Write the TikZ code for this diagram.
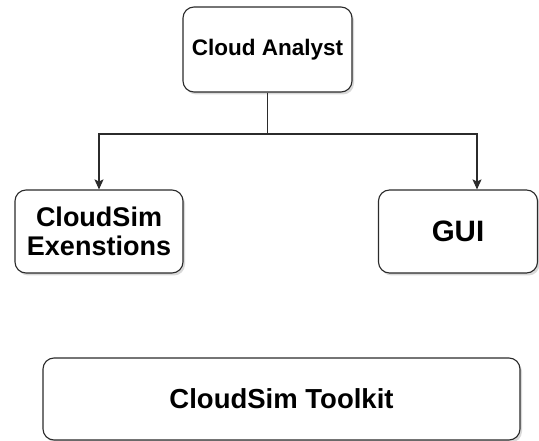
\documentclass[tikz,border=0pt]{standalone}
\usepackage{fontspec}
\setmainfont{Liberation Sans}
\usetikzlibrary{arrows.meta, shadows}
\definecolor{cline}{HTML}{2B2B2B}
\tikzset{
  every picture/.style={font=\bfseries, line width=1.1pt},
  block/.style={draw=cline, fill=white, rounded corners=11pt, align=center, inner sep=4pt,
    drop shadow={shadow xshift=2pt, shadow yshift=-2.5pt, opacity=0.15, fill=black}},
  link/.style={-{Stealth[length=10pt, width=9pt, inset=2pt]}, draw=cline, line width=1.1pt},
}
\newcommand{\fs}[1]{\fontsize{#1}{#1}\selectfont}

\begin{document}
\begin{tikzpicture}[x=1pt, y=-1pt]
  \useasboundingbox (0,0) rectangle (539,441);
  \node[block, minimum width=169pt, minimum height=85pt, font=\bfseries\fs{22.5}] (analyst) at (267.5,49.5) {Cloud Analyst};
  \node[block, minimum width=168pt, minimum height=83pt, font=\bfseries\fontsize{27}{29}\selectfont] (ext) at (99,231.5) {CloudSim\\Exenstions};
  \node[block, minimum width=159pt, minimum height=83pt, font=\bfseries\fs{29.5}] (gui) at (458,231.5) {GUI};
  \node[block, minimum width=477pt, minimum height=82pt, font=\bfseries\fs{27.5}] (toolkit) at (281.5,399) {CloudSim Toolkit};
  % split below the top block
  \draw[link] (analyst.south) -- ++(0,41.5) -| (ext.north);
  \draw[link] (analyst.south) -- ++(0,41.5) -| ([xshift=19pt]gui.north);
\end{tikzpicture}
\end{document}
